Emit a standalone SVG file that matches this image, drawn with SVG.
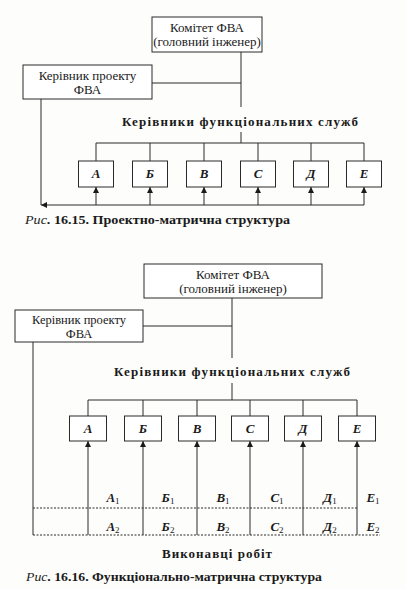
<svg xmlns="http://www.w3.org/2000/svg" width="406" height="589" viewBox="0 0 406 589">
<style>
.bg{fill:#fdfdfb}
.box{fill:#fff;stroke:#2a2a2a;stroke-width:1}
.ln{fill:none;stroke:#2a2a2a;stroke-width:1}
.dash{fill:none;stroke:#2a2a2a;stroke-width:1;stroke-dasharray:2,1.5}
.t{font-family:"Liberation Serif","DejaVu Serif",serif;font-size:13px;fill:#1a1a1a;text-anchor:middle}
.hd{font-family:"Liberation Serif","DejaVu Serif",serif;font-size:13px;font-weight:bold;fill:#1a1a1a;text-anchor:middle}
.lt{font-family:"Liberation Serif","DejaVu Serif",serif;font-size:13px;font-style:italic;font-weight:bold;fill:#1a1a1a;text-anchor:middle}
.cap{font-family:"Liberation Serif","DejaVu Serif",serif;font-size:12.5px;font-weight:bold;fill:#1a1a1a}
.sub{font-style:normal;font-weight:normal;font-size:9px}
</style>
<defs>
<marker id="ah" viewBox="0 0 10 10" refX="10" refY="5" markerWidth="6" markerHeight="6" orient="auto" markerUnits="userSpaceOnUse">
<path d="M0,0 L10,5 L0,10 z" fill="#1a1a1a"/>
</marker>
</defs>
<rect class="bg" x="0" y="0" width="406" height="589"/>

<!-- Figure 16.15 -->
<g id="connectors1">
<path class="ln" d="M241,52 V107 M152,83 H241 M241,132 V143 M96,143 H364 M96,143 V161 M150,143 V161 M204,143 V161 M258,143 V161 M311,143 V161 M364,143 V161"/>
<path class="ln" d="M41,99 V205"/>
<path class="ln" d="M364,205 H41" marker-end="url(#ah)"/>
<path class="ln" d="M96,205 V187" marker-end="url(#ah)"/>
<path class="ln" d="M150,205 V187" marker-end="url(#ah)"/>
<path class="ln" d="M204,205 V187" marker-end="url(#ah)"/>
<path class="ln" d="M258,205 V187" marker-end="url(#ah)"/>
<path class="ln" d="M311,205 V187" marker-end="url(#ah)"/>
<path class="ln" d="M364,205 V187" marker-end="url(#ah)"/>
</g>
<g id="f1-committee">
<rect class="box" x="152" y="17" width="110" height="35"/>
<text class="t" x="207" y="32">Комітет ФВА</text>
<text class="t" x="207" y="46">(головний інженер)</text>
</g>
<g id="f1-pm">
<rect class="box" x="23" y="65" width="129" height="34"/>
<text class="t" x="87.5" y="79.5">Керівник проекту</text>
<text class="t" x="87.5" y="94">ФВА</text>
</g>
<g id="f1-heads">
<text class="hd" x="240" y="126" textLength="236" lengthAdjust="spacing">Керівники функціональних служб</text>
</g>
<g id="f1-A"><rect class="box" x="78.5" y="161" width="35" height="26"/><text class="lt" x="96" y="178">А</text></g>
<g id="f1-B"><rect class="box" x="132.5" y="161" width="35" height="26"/><text class="lt" x="150" y="178">Б</text></g>
<g id="f1-V"><rect class="box" x="186.5" y="161" width="35" height="26"/><text class="lt" x="204" y="178">В</text></g>
<g id="f1-S"><rect class="box" x="240.5" y="161" width="35" height="26"/><text class="lt" x="258" y="178">С</text></g>
<g id="f1-D"><rect class="box" x="293.5" y="161" width="35" height="26"/><text class="lt" x="311" y="178">Д</text></g>
<g id="f1-E"><rect class="box" x="346.5" y="161" width="35" height="26"/><text class="lt" x="364" y="178">Е</text></g>
<text class="cap" x="25" y="224" textLength="265" lengthAdjust="spacingAndGlyphs"><tspan font-style="italic" font-weight="normal">Рис</tspan>. 16.15. Проектно-матрична структура</text>

<!-- Figure 16.16 -->
<g id="connectors2">
<path class="ln" d="M232,298 V358 M143,326 H232 M232,383 V400 M88,400 H357 M88,400 V416 M143,400 V416 M197,400 V416 M250,400 V416 M303,400 V416 M357,400 V416"/>
<path class="ln" d="M33,342 V535"/>
<path class="ln" d="M88,535 V441" marker-end="url(#ah)"/>
<path class="ln" d="M143,535 V441" marker-end="url(#ah)"/>
<path class="ln" d="M197,535 V441" marker-end="url(#ah)"/>
<path class="ln" d="M250,535 V441" marker-end="url(#ah)"/>
<path class="ln" d="M303,535 V441" marker-end="url(#ah)"/>
<path class="ln" d="M357,535 V441" marker-end="url(#ah)"/>
<path class="dash" d="M33,508 H357 M33,535 H380"/>
</g>
<g id="f2-committee">
<rect class="box" x="144" y="264" width="178" height="34"/>
<text class="t" x="233" y="279">Комітет ФВА</text>
<text class="t" x="233" y="293">(головний інженер)</text>
</g>
<g id="f2-pm">
<rect class="box" x="15" y="310" width="128" height="32"/>
<text class="t" x="79" y="323.5" style="font-size:12.5px">Керівник проекту</text>
<text class="t" x="79" y="338" style="font-size:12.5px">ФВА</text>
</g>
<g id="f2-heads">
<text class="hd" x="232" y="376" textLength="236" lengthAdjust="spacing">Керівники функціональних служб</text>
</g>
<g id="f2-A"><rect class="box" x="69.5" y="416" width="37" height="25"/><text class="lt" x="88" y="433">А</text></g>
<g id="f2-B"><rect class="box" x="124.5" y="416" width="37" height="25"/><text class="lt" x="143" y="433">Б</text></g>
<g id="f2-V"><rect class="box" x="178.5" y="416" width="37" height="25"/><text class="lt" x="197" y="433">В</text></g>
<g id="f2-S"><rect class="box" x="231.5" y="416" width="37" height="25"/><text class="lt" x="250" y="433">С</text></g>
<g id="f2-D"><rect class="box" x="284.5" y="416" width="37" height="25"/><text class="lt" x="303" y="433">Д</text></g>
<g id="f2-E"><rect class="box" x="338.5" y="416" width="37" height="25"/><text class="lt" x="357" y="433">Е</text></g>
<g id="f2-performers">
<text class="lt" x="113" y="502">А<tspan class="sub" dy="2">1</tspan></text>
<text class="lt" x="168" y="502">Б<tspan class="sub" dy="2">1</tspan></text>
<text class="lt" x="223" y="502">В<tspan class="sub" dy="2">1</tspan></text>
<text class="lt" x="277" y="502">С<tspan class="sub" dy="2">1</tspan></text>
<text class="lt" x="330" y="502">Д<tspan class="sub" dy="2">1</tspan></text>
<text class="lt" x="373" y="502">Е<tspan class="sub" dy="2">1</tspan></text>
<text class="lt" x="113" y="531">А<tspan class="sub" dy="2">2</tspan></text>
<text class="lt" x="168" y="531">Б<tspan class="sub" dy="2">2</tspan></text>
<text class="lt" x="223" y="531">В<tspan class="sub" dy="2">2</tspan></text>
<text class="lt" x="277" y="531">С<tspan class="sub" dy="2">2</tspan></text>
<text class="lt" x="330" y="531">Д<tspan class="sub" dy="2">2</tspan></text>
<text class="lt" x="373" y="531">Е<tspan class="sub" dy="2">2</tspan></text>
<text class="hd" x="217" y="558" textLength="110" lengthAdjust="spacing">Виконавці робіт</text>
</g>
<text class="cap" x="26" y="581" textLength="296" lengthAdjust="spacingAndGlyphs"><tspan font-style="italic" font-weight="normal">Рис</tspan>. 16.16. Функціонально-матрична структура</text>
</svg>
